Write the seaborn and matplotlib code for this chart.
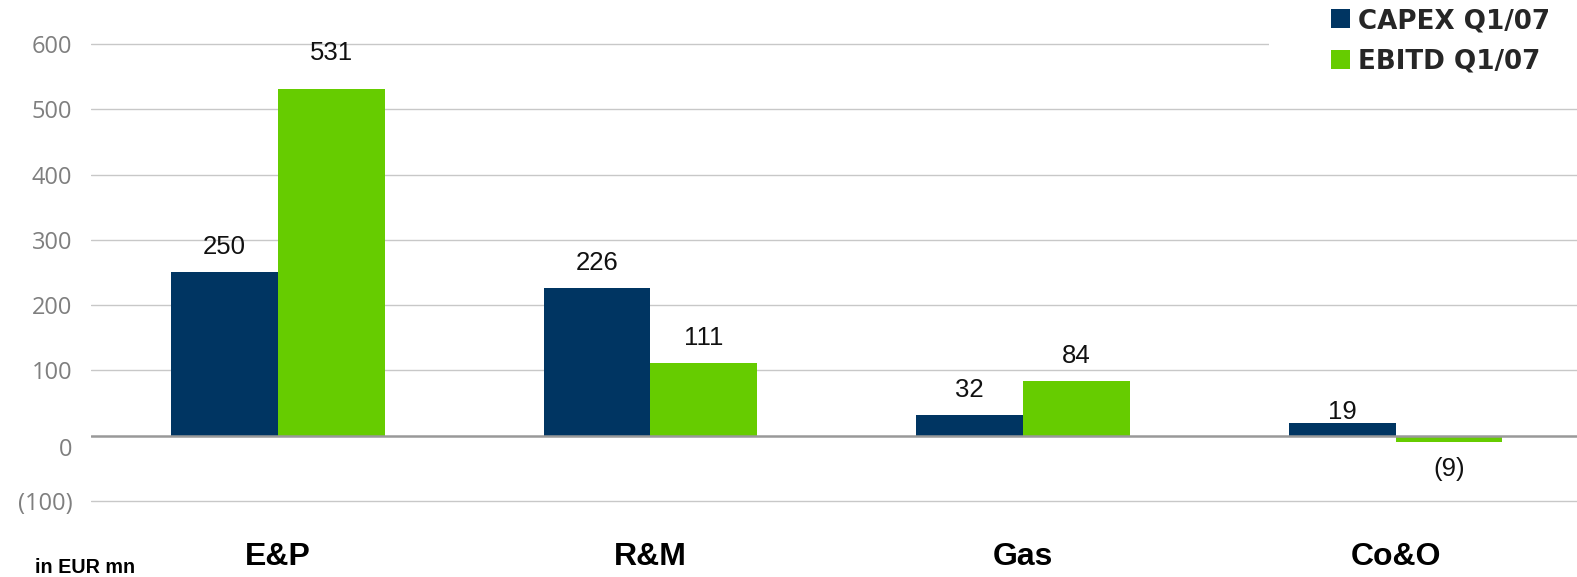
import numpy as np
import pandas as pd
import matplotlib
matplotlib.use("Agg")
import matplotlib.pyplot as plt
import matplotlib.transforms as mtransforms
from matplotlib.patches import Patch, Rectangle
import seaborn as sns

# data
segments = ["E&P", "R&M", "Gas", "Co&O"]
capex_q1_07 = [250, 226, 32, 19]
ebitd_q1_07 = [531, 111, 84, -9]
series_names = ["CAPEX Q1/07", "EBITD Q1/07"]
y_ticks = [-100, 0, 100, 200, 300, 400, 500, 600]
unit_note = "in EUR mn"

colors = {"CAPEX Q1/07": "#003562", "EBITD Q1/07": "#66CC00"}

df = pd.DataFrame({
    "segment": segments * 2,
    "series": [series_names[0]] * 4 + [series_names[1]] * 4,
    "value": capex_q1_07 + ebitd_q1_07,
})

sns.set_theme(style="white")
plt.rcParams["font.family"] = ["Liberation Sans", "DejaVu Sans"]

W, H = 1577, 577
fig = plt.figure(figsize=(W / 100, H / 100), dpi=100)
ax_bottom_px = 520
ax = fig.add_axes([90.5 / W, (H - ax_bottom_px) / H, 1 - 90.5 / W, ax_bottom_px / H])

sns.barplot(data=df, x="segment", y="value", hue="series", order=segments,
            hue_order=series_names, palette=colors, width=0.573, gap=0,
            saturation=1, ax=ax, legend=False, zorder=2,
            linewidth=0, edgecolor="none")

px_per_unit = 65.3 / 100
ax.set_xlim(-0.503, 3.487)
ax.set_ylim(-(ax_bottom_px - 435.7) / px_per_unit, 435.7 / px_per_unit)

# gridlines
for t in y_ticks:
    if t != 0:
        ax.axhline(t, color="#C8C8C8", lw=1.0, zorder=0.5)
ax.axhline(0, color="#999999", lw=1.8, zorder=3)

# cover the top gridline behind the legend
ax.add_patch(Rectangle((1269 / W, 0.88), 1, 0.2, transform=fig.transFigure,
                       facecolor="white", edgecolor="none", zorder=1))

for s in ax.spines.values():
    s.set_visible(False)

ax.set_yticks(y_ticks)
ax.set_yticklabels([f"({-t})" if t < 0 else str(t) for t in y_ticks],
                   fontsize=17, color="#7F7F7F", family=["Open Sans", "DejaVu Sans"])
ax.tick_params(axis="y", length=0, pad=13)
ax.tick_params(axis="x", length=0, pad=16)
ax.set_xticks(range(len(segments)))
ax.set_xticklabels(segments, fontsize=23, fontweight="bold", color="black")
ax.set_xlabel("")
ax.set_ylabel("")

# "0" label sits a bit lower in the original
zero_lbl = ax.yaxis.get_major_ticks()[1].label1
zero_lbl.set_transform(zero_lbl.get_transform() +
                       mtransforms.ScaledTranslation(0, -8 / 72, fig.dpi_scale_trans))

# value labels (offsets in pixels from bar end)
label_offsets = {531: 36, 19: 11, -9: -27}
for container, vals in zip(ax.containers, [capex_q1_07, ebitd_q1_07]):
    for patch, v in zip(container.patches, vals):
        x = patch.get_x() + patch.get_width() / 2
        off = label_offsets.get(v, 25)
        txt = f"({-v})" if v < 0 else str(v)
        ax.annotate(txt, (x, v), xytext=(0, off * 0.72), textcoords="offset points",
                    ha="center", va="center", fontsize=18.5, color="#111111", zorder=4)

handles = [Patch(facecolor=colors[n], edgecolor="none") for n in series_names]
leg = fig.legend(handles, series_names, loc="upper left",
                 bbox_to_anchor=(1331 / W, 1 - 8 / H), frameon=False,
                 prop={"family": "DejaVu Sans", "weight": "bold", "size": 18.8},
                 handlelength=0.74, handleheight=0.74, handletextpad=0.3,
                 labelspacing=0.55, borderpad=0, borderaxespad=0)

fig.text(35 / W, 4 / H, unit_note, fontsize=14.2, fontweight="bold",
         ha="left", va="baseline", color="black")

fig.savefig("out.png", dpi=100)
